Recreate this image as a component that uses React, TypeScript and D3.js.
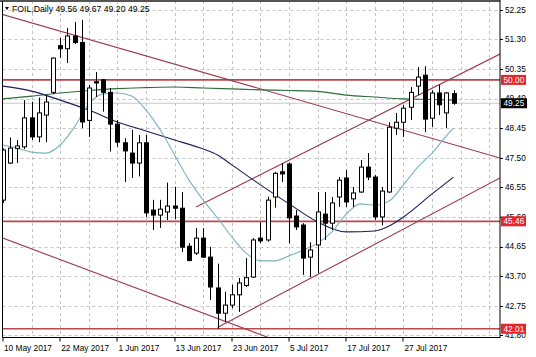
import React from 'react';
import * as d3 from 'd3';

const W = 536;
const H = 357;

const dates = [
  '10 May', '11 May', '12 May', '15 May', '16 May', '17 May', '18 May', '19 May', '22 May', '23 May',
  '24 May', '25 May', '26 May', '29 May', '30 May', '31 May', '1 Jun', '2 Jun', '5 Jun', '6 Jun',
  '7 Jun', '8 Jun', '9 Jun', '12 Jun', '13 Jun', '14 Jun', '15 Jun', '16 Jun', '19 Jun', '20 Jun',
  '21 Jun', '22 Jun', '23 Jun', '26 Jun', '27 Jun', '28 Jun', '29 Jun', '30 Jun', '3 Jul', '4 Jul',
  '5 Jul', '6 Jul', '7 Jul', '10 Jul', '11 Jul', '12 Jul', '13 Jul', '14 Jul', '17 Jul', '18 Jul',
  '19 Jul', '20 Jul', '21 Jul', '24 Jul', '25 Jul', '26 Jul', '27 Jul', '28 Jul', '31 Jul', '1 Aug',
  '2 Aug', '3 Aug', '4 Aug', '7 Aug',
];

const opens = [
  46.14, 47.33, 47.8, 47.85, 48.78, 48.17, 48.87, 49.6, 51.1, 51.0,
  51.41, 51.2, 48.7, 49.94, 50.0, 49.6, 48.58, 47.98, 47.65, 47.33,
  47.98, 45.82, 45.66, 45.76, 45.95, 45.88, 44.66, 44.44, 44.92, 44.31,
  43.32, 42.51, 42.77, 43.1, 43.4, 43.67, 44.92, 44.86, 46.24, 47.05,
  47.3, 45.63, 45.34, 44.31, 44.7, 45.69, 45.4, 46.24, 46.85, 46.18,
  46.4, 47.2, 46.88, 45.6, 46.4, 48.45, 48.64, 49.12, 49.8, 50.15,
  48.77, 49.58, 48.94, 49.56,
];
const highs = [
  47.8, 48.15, 48.07, 49.35, 49.3, 49.43, 49.5, 50.72, 51.35, 51.67,
  51.86, 51.93, 49.84, 50.25, 50.03, 49.74, 48.71, 48.13, 48.4, 48.23,
  48.23, 46.15, 46.15, 46.7, 46.57, 46.4, 44.76, 45.24, 45.24, 44.64,
  44.1, 43.2, 43.42, 43.64, 44.28, 44.92, 45.43, 46.25, 47.05, 47.33,
  47.35, 45.82, 45.4, 44.79, 46.4, 46.4, 46.24, 46.88, 47.11, 46.56,
  47.43, 47.65, 46.95, 46.56, 48.64, 48.94, 49.19, 49.77, 50.41, 50.44,
  49.67, 49.84, 49.61, 49.67,
];
const lows = [
  46.05, 47.3, 47.33, 47.78, 48.07, 48.0, 48.0, 49.55, 50.7, 50.54,
  51.15, 48.45, 48.17, 49.45, 48.98, 47.7, 47.85, 46.72, 46.85, 46.9,
  45.6, 45.18, 45.25, 45.5, 45.53, 44.47, 44.18, 44.38, 44.28, 42.93,
  42.01, 42.22, 42.67, 42.55, 43.35, 43.64, 44.76, 44.8, 45.9, 46.72,
  44.75, 45.18, 43.74, 43.67, 43.8, 44.86, 45.18, 45.92, 45.92, 45.92,
  46.37, 46.78, 45.5, 45.33, 46.37, 48.23, 48.17, 48.71, 49.51, 48.32,
  48.49, 48.87, 48.45, 49.2,
];
const closes = [
  47.75, 47.81, 47.88, 48.78, 48.17, 48.94, 49.29, 50.7, 51.0, 51.41,
  51.2, 48.65, 49.74, 49.9, 49.6, 48.58, 48.0, 47.72, 47.33, 47.98,
  45.73, 45.66, 45.85, 45.95, 45.88, 44.63, 44.2, 44.92, 44.31, 43.35,
  42.51, 42.77, 43.1, 43.48, 43.65, 44.86, 44.83, 46.14, 47.0, 46.98,
  45.57, 45.28, 44.28, 44.54, 45.76, 45.4, 46.05, 46.78, 46.08, 46.37,
  47.2, 46.88, 45.6, 46.43, 48.48, 48.64, 49.09, 49.6, 50.09, 48.74,
  49.58, 49.2, 49.58, 49.25,
];

// Moving averages (bar index, price)
const maSlowBars = [0, 4, 8, 12, 16, 20, 24, 28, 32, 36, 40, 44, 48, 52, 56, 60, 63];
const maSlowVals = [49.39, 49.48, 49.58, 49.66, 49.72, 49.75, 49.77, 49.74, 49.71, 49.68, 49.66, 49.63, 49.51, 49.45, 49.39, 49.37, 49.35];

const maMidBars = [0, 4, 8, 12, 16, 20, 24, 28, 30, 32, 36, 40, 44, 48, 52, 54, 56, 60, 63];
const maMidVals = [49.8, 49.64, 49.35, 49.03, 48.65, 48.36, 48.07, 47.78, 47.59, 47.27, 46.63, 46.02, 45.44, 45.12, 45.15, 45.31, 45.6, 46.34, 46.88];

const maFastBars = [0, 2, 4, 6, 8, 10, 12, 14, 16, 18, 20, 22, 24, 26, 28, 30, 32, 34, 36, 38, 40, 42, 44, 46, 48, 50, 52, 54, 56, 58, 60, 62, 63];
const maFastVals = [47.91, 47.81, 47.68, 47.65, 47.91, 48.49, 49.23, 49.55, 49.58, 49.48, 49.03, 48.39, 47.59, 46.79, 46.14, 45.57, 44.96, 44.44, 44.19, 44.19, 44.35, 44.54, 44.76, 45.12, 45.69, 46.02, 45.98, 46.11, 46.63, 47.2, 47.65, 48.2, 48.46];

// Trend lines (start bar, start price, end bar, end price)
const trendStartBar = [-0.5, -0.5, 27, 30];
const trendStartPrice = [52.13, 44.96, 45.92, 42.05];
const trendEndBar = [69.5, 40, 69.5, 69.5];
const trendEndPrice = [47.49, 41.48, 50.83, 46.85];

// Horizontal levels
const levels = [50.0, 45.46, 42.01];
const levelLabels = ['50.00', '45.46', '42.01'];
const lastPrice = 49.25;
const lastPriceLabel = '49.25';

const priceTicks = [52.25, 51.3, 50.35, 49.4, 48.45, 47.5, 46.55, 45.6, 44.65, 43.7, 42.75, 41.8];

const title = 'FOIL,Daily  49.56 49.67 49.20 49.25';

const FONT = '"Liberation Sans", Arial, sans-serif';

export default function App() {
  const left = 2.5;
  const right = 500;
  const top = 1;
  const bottom = 337.5;

  const x = d3.scaleLinear().domain([0, 63]).range([3, 453.5]);
  const y = d3.scaleLinear().domain([41.8, 52.25]).range([335.3, 9.8]);

  const lineGen = d3
    .line<[number, number]>()
    .x((d) => x(d[0]))
    .y((d) => y(d[1]))
    .curve(d3.curveMonotoneX);

  const slowPts = maSlowBars.map((b, i) => [b, maSlowVals[i]] as [number, number]);
  const midPts = maMidBars.map((b, i) => [b, maMidVals[i]] as [number, number]);
  const fastPts = maFastBars.map((b, i) => [b, maFastVals[i]] as [number, number]);

  const vGrid: number[] = [];
  for (let b = 4; x(b) < right - 1; b += 4) vGrid.push(x(b));

  const dateTicks = dates
    .map((d, i) => ({ i, label: `${d} 2017` }))
    .filter((d) => d.i % 8 === 0);

  const snap = (v: number) => Math.round(v) + 0.5;

  return (
    <svg
      width={W}
      height={H}
      style={{ position: 'absolute', left: 0, top: 0, background: '#fff' }}
      fontFamily={FONT}
    >
      <defs>
        <clipPath id="plot">
          <rect x={left + 0.5} y={top + 1} width={right - left - 0.5} height={bottom - top - 1} />
        </clipPath>
      </defs>
      <rect x={0} y={0} width={W} height={H} fill="#fff" />

      {/* grid */}
      <g stroke="#c4c4c4" strokeWidth={1} strokeDasharray="3,3">
        {priceTicks.map((p) => (
          <line key={`h${p}`} x1={left} x2={right} y1={Math.round(y(p)) + 0.5} y2={Math.round(y(p)) + 0.5} />
        ))}
        {vGrid.map((gx) => (
          <line key={`v${gx}`} x1={snap(gx)} x2={snap(gx)} y1={top} y2={bottom} />
        ))}
      </g>

      <g clipPath="url(#plot)">
        {/* bid line */}
        <line x1={left} x2={right} y1={y(lastPrice)} y2={y(lastPrice)} stroke="#c8c8c8" strokeWidth={1} />

        {/* horizontal levels */}
        {levels.map((l) => (
          <line key={`l${l}`} x1={left} x2={right} y1={y(l)} y2={y(l)} stroke="#b9474c" strokeWidth={1.7} />
        ))}

        {/* trend lines */}
        {trendStartBar.map((sb, i) => (
          <line
            key={`t${i}`}
            x1={x(sb)}
            y1={y(trendStartPrice[i])}
            x2={x(trendEndBar[i])}
            y2={y(trendEndPrice[i])}
            stroke="#9c3a4c"
            strokeWidth={1.1}
          />
        ))}

        {/* moving averages */}
        <path d={lineGen(slowPts) || ''} fill="none" stroke="#2f6b3c" strokeWidth={1.1} />
        <path d={lineGen(midPts) || ''} fill="none" stroke="#1c1c5c" strokeWidth={1.1} />
        <path d={lineGen(fastPts) || ''} fill="none" stroke="#7ab2c0" strokeWidth={1.1} />

        {/* candles */}
        {opens.map((o, i) => {
          const c = closes[i];
          const cx = snap(x(i));
          const bull = c >= o;
          const yTop = y(Math.max(o, c));
          const yBot = y(Math.min(o, c));
          const h = Math.max(1, yBot - yTop);
          return (
            <g key={`c${i}`}>
              <line x1={cx} x2={cx} y1={y(highs[i])} y2={y(lows[i])} stroke="#000" strokeWidth={1} />
              <rect
                x={cx - 2}
                y={yTop}
                width={4}
                height={h}
                fill={bull ? '#fff' : '#000'}
                stroke="#000"
                strokeWidth={1}
              />
            </g>
          );
        })}
      </g>

      {/* frame */}
      <line x1={0} x2={right} y1={1} y2={1} stroke="#555" strokeWidth={2} />
      <line x1={left} x2={left} y1={top} y2={bottom} stroke="#000" strokeWidth={1} />
      <line x1={right} x2={right} y1={0} y2={bottom + 0.5} stroke="#000" strokeWidth={1} />
      <line x1={left} x2={right} y1={bottom} y2={bottom} stroke="#000" strokeWidth={1} />

      {/* price axis */}
      {priceTicks.map((p) => (
        <g key={`pt${p}`}>
          <line x1={right} x2={right + 3} y1={Math.round(y(p)) + 0.5} y2={Math.round(y(p)) + 0.5} stroke="#000" />
          <text x={505} y={y(p)} dy="0.35em" fontSize={8.3} fill="#000">
            {p.toFixed(2)}
          </text>
        </g>
      ))}

      {/* level labels */}
      {levels.map((l, i) => (
        <g key={`ll${l}`}>
          <rect x={501} y={y(l) - 5} width={25} height={10} fill="#e5252b" />
          <text x={503.5} y={y(l)} dy="0.35em" fontSize={8.3} fill="#fff">
            {levelLabels[i]}
          </text>
        </g>
      ))}
      <rect x={501} y={y(lastPrice) - 5} width={26} height={10} fill="#000" />
      <text x={503.5} y={y(lastPrice)} dy="0.35em" fontSize={8.3} fill="#fff">
        {lastPriceLabel}
      </text>

      {/* date axis */}
      {dateTicks.map((d) => (
        <g key={`d${d.i}`}>
          <line x1={snap(x(d.i)) - 0.5} x2={snap(x(d.i)) - 0.5} y1={bottom} y2={bottom + 4} stroke="#000" />
          <text x={x(d.i) + 1} y={350.5} fontSize={8.3} fill="#000">
            {d.label}
          </text>
        </g>
      ))}

      {/* title */}
      <path d="M5,7 L9,7 L7,10 Z" fill="#000" />
      <text x={12} y={12} fontSize={8.7} fill="#000">
        {title}
      </text>
    </svg>
  );
}
